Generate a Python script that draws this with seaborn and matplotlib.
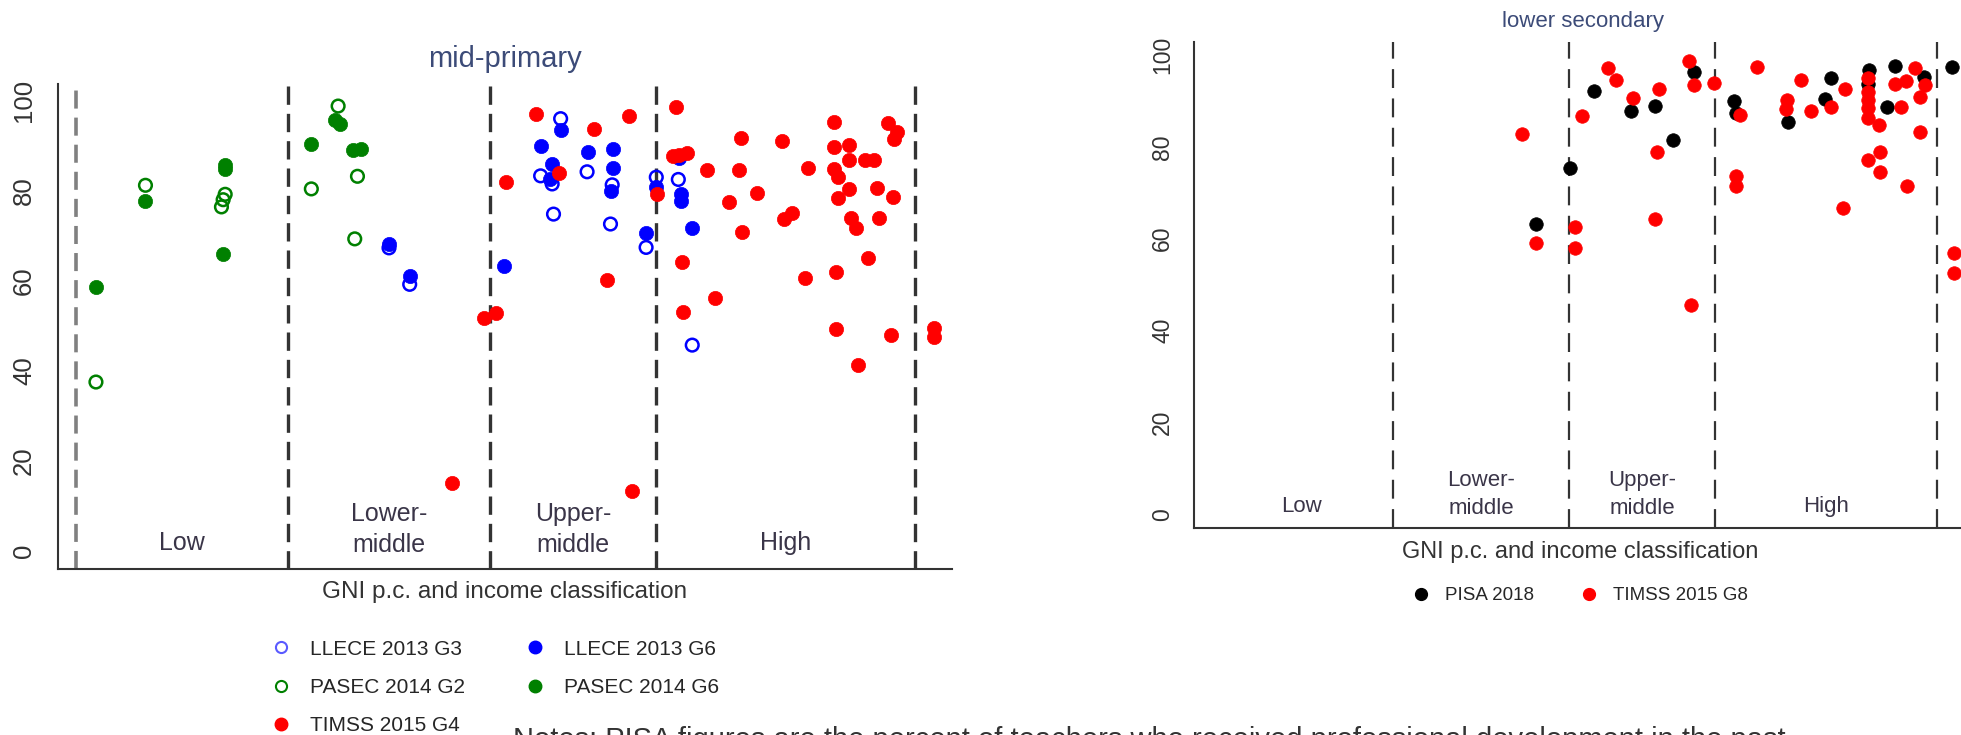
import matplotlib.pyplot as plt
import seaborn as sns
from matplotlib.lines import Line2D

# income group cut-offs (log10 GNI p.c., US$) and group names
cutoffs = [3.011, 3.606, 4.096]
groups = ["Low", "Lower-\nmiddle", "Upper-\nmiddle", "High"]
left_edges = [2.386, 4.860]
right_edges = [2.395, 4.845]

# mid-primary: % of teachers, by log10 GNI p.c.
llece_g3_x = [3.309, 3.370, 3.756, 3.790, 3.794, 3.815, 3.893, 3.962, 3.967,
              4.067, 4.097, 4.162, 4.203]
llece_g3_y = [67.3, 59.2, 83.3, 81.5, 74.8, 96.0, 84.2, 72.6, 81.3,
              67.4, 83.0, 82.5, 45.7]

llece_g6_x = [3.309, 3.370, 3.648, 3.756, 3.785, 3.790, 3.815, 3.895, 3.964,
              3.969, 3.969, 4.067, 4.097, 4.165, 4.170, 4.170, 4.201]
llece_g6_y = [68.2, 61.0, 63.3, 89.9, 82.7, 85.9, 93.5, 88.7, 79.9,
              85.1, 89.3, 70.7, 80.9, 87.2, 79.2, 77.8, 71.8]

pasec_g2_x = [2.445, 2.591, 2.815, 2.820, 2.826, 3.080, 3.159, 3.208, 3.216]
pasec_g2_y = [37.5, 81.2, 76.4, 78.0, 79.2, 80.4, 98.8, 69.3, 83.2]

pasec_g6_x = [2.445, 2.591, 2.820, 2.826, 2.826, 3.080, 3.149, 3.165, 3.203, 3.225]
pasec_g6_y = [58.6, 77.7, 65.9, 84.9, 85.8, 90.3, 95.8, 94.9, 89.1, 89.2]

timss_g4_x = [3.495, 3.588, 3.625, 3.653, 3.743, 3.809, 3.913, 3.952, 4.016,
              4.025, 4.100, 4.155, 4.145, 4.165, 4.187, 4.172, 4.175, 4.246,
              4.271, 4.312, 4.342, 4.347, 4.350, 4.394, 4.467, 4.474, 4.497,
              4.536, 4.543, 4.622, 4.622, 4.622, 4.632, 4.632, 4.627, 4.627,
              4.664, 4.664, 4.664, 4.671, 4.686, 4.693, 4.713, 4.720, 4.740,
              4.749, 4.754, 4.779, 4.808, 4.798, 4.795, 4.789, 4.916, 4.916]
timss_g4_y = [15.1, 51.8, 52.8, 82.0, 97.0, 84.0, 93.6, 60.1, 96.7,
              13.3, 79.3, 98.7, 87.6, 87.9, 88.4, 64.2, 53.1, 84.6,
              56.1, 77.6, 84.7, 91.6, 70.8, 79.5, 91.1, 73.8, 75.0,
              60.7, 85.1, 95.2, 89.8, 84.8, 83.0, 78.3, 62.0, 49.2,
              90.2, 86.8, 80.3, 74.0, 71.8, 41.3, 86.8, 65.0, 86.8,
              80.7, 73.9, 95.0, 93.1, 91.4, 78.5, 47.9, 49.6, 47.6]

# lower secondary
pisa_x = [3.492, 3.609, 3.690, 3.812, 3.894, 3.956, 4.026, 4.160, 4.166,
          4.343, 4.466, 4.488, 4.610, 4.614, 4.675, 4.702, 4.800, 4.895]
pisa_y = [63.1, 75.3, 92.2, 87.8, 89.0, 81.6, 96.2, 90.0, 87.3,
          85.5, 90.4, 95.1, 93.7, 96.7, 88.7, 97.7, 95.3, 97.5]

timss_g8_x = [3.448, 3.492, 3.626, 3.626, 3.648, 3.737, 3.762, 3.821, 3.900,
              3.894, 3.908, 4.009, 4.017, 4.026, 4.094, 4.166, 4.166, 4.179,
              4.239, 4.334, 4.337, 4.387, 4.419, 4.488, 4.527, 4.534, 4.611,
              4.611, 4.611, 4.611, 4.611, 4.612, 4.650, 4.652, 4.652, 4.702,
              4.724, 4.741, 4.744, 4.770, 4.786, 4.786, 4.803, 4.901, 4.901]
timss_g8_y = [82.7, 59.0, 62.6, 58.0, 86.7, 97.2, 94.6, 90.6, 78.8,
              64.3, 92.7, 98.8, 45.5, 93.5, 93.8, 73.7, 71.5, 86.9,
              97.5, 88.3, 90.1, 94.6, 87.8, 88.7, 66.8, 92.6, 95.1,
              92.0, 90.3, 88.4, 86.2, 77.1, 84.8, 78.8, 74.6, 93.6,
              88.7, 94.4, 71.5, 97.2, 90.9, 83.3, 93.5, 56.8, 52.6]

BLUE, GREEN, RED, INK = "#0000ff", "#008000", "#ff0000", "#333333"

sns.set_style("white")
plt.rcParams["font.family"] = ["Liberation Sans", "DejaVu Sans"]

fig = plt.figure(figsize=(19.61, 7.35), dpi=100)
ax1 = fig.add_axes([0.02973, 0.22544, 0.45559, 0.66027])
ax2 = fig.add_axes([0.60903, 0.28122, 0.39786, 0.66204])


def dots(ax, x, y, color, hollow=False, s=105):
    if hollow:
        sns.scatterplot(x=x, y=y, ax=ax, marker="o", s=s - 22,
                        facecolors="none", edgecolor=color, linewidth=1.8)
    else:
        sns.scatterplot(x=x, y=y, ax=ax, marker="o", s=s, color=color,
                        edgecolor=color, linewidth=0.5)


def frame(ax, edges, ylim, lsize, tick_len, pad, vlw, dash):
    sns.despine(ax=ax)
    for sp in ("left", "bottom"):
        ax.spines[sp].set_linewidth(1.5)
        ax.spines[sp].set_color(INK)
    ax.set_ylim(*ylim)
    ax.set_yticks([0, 20, 40, 60, 80, 100])
    ticks = [edges[0]] + cutoffs + [edges[1]]
    ax.set_xticks(ticks)
    ax.set_xticklabels([])
    ax.tick_params(axis="both", direction="out", length=tick_len, width=1.5,
                   color=INK, labelsize=lsize, labelcolor=INK, pad=pad)
    for lbl in ax.get_yticklabels():
        lbl.set_rotation(90)
        lbl.set_va("center")
    for v in cutoffs + [edges[1]]:
        ax.axvline(v, color=INK, lw=vlw, dashes=dash, zorder=0)
    ax.set_xlabel("")
    ax.set_ylabel("")


# ---- mid-primary ----
dots(ax1, llece_g3_x, llece_g3_y, BLUE, hollow=True)
dots(ax1, llece_g6_x, llece_g6_y, BLUE)
dots(ax1, pasec_g2_x, pasec_g2_y, GREEN, hollow=True)
dots(ax1, pasec_g6_x, pasec_g6_y, GREEN)
dots(ax1, timss_g4_x, timss_g4_y, RED)
ax1.set_xlim(2.334, 4.968)
frame(ax1, left_edges, (-4.1, 103.7), 18.5, 6.5, 9.6, 2.4, (5.5, 2.7))
ax1.axvline(left_edges[0], color="#808080", lw=2.6, dashes=(5.0, 2.5), zorder=0)

bounds = [left_edges[0]] + cutoffs + [left_edges[1]]
for i, g in enumerate(groups):
    xm = (bounds[i] + bounds[i + 1]) / 2
    ax1.text(xm, 4.8 if "\n" in g else 1.7, g, ha="center", va="center",
             fontsize=18, color="#3a3548", linespacing=1.35)

fig.text(505 / 1961, 1 - 59 / 735, "mid-primary", ha="center", va="center",
         fontsize=21, color="#3c4b78")
fig.text(505 / 1961, 1 - 592 / 735, "GNI p.c. and income classification",
         ha="center", va="center", fontsize=17.5, color=INK)

h1 = [
    Line2D([], [], ls="none", marker="o", ms=8, mfc="none", mec="#5a5aff", mew=1.5),
    Line2D([], [], ls="none", marker="o", ms=8, mfc="none", mec=GREEN, mew=1.5),
    Line2D([], [], ls="none", marker="o", ms=9, color=RED),
    Line2D([], [], ls="none", marker="o", ms=9, color=BLUE),
    Line2D([], [], ls="none", marker="o", ms=9, color=GREEN),
]
l1 = ["LLECE 2013 G3", "PASEC 2014 G2", "TIMSS 2015 G4",
      "LLECE 2013 G6", "PASEC 2014 G6"]
fig.legend(h1, l1, loc="upper left", bbox_to_anchor=(0.138, 0.1297), ncol=2,
           frameon=False, fontsize=15, handlelength=1.0, handletextpad=0.89,
           columnspacing=2.87, labelspacing=0.92, borderpad=0, borderaxespad=0)

# ---- lower secondary ----
dots(ax2, pisa_x, pisa_y, "black", s=95)
dots(ax2, timss_g8_x, timss_g8_y, RED, s=95)
ax2.set_xlim(2.343, 4.97)
frame(ax2, right_edges, (-3.05, 102.9), 16.5, 6.0, 8.6, 1.6, (8.5, 4.7))

bounds = [right_edges[0]] + cutoffs + [right_edges[1]]
for i, g in enumerate(groups):
    xm = (bounds[i] + bounds[i + 1]) / 2
    ax2.text(xm, 4.3 if "\n" in g else 1.8, g, ha="center", va="center",
             fontsize=16, color="#3a3548", linespacing=1.4)

fig.text(1583 / 1961, 1 - 21 / 735, "lower secondary", ha="center", va="center",
         fontsize=16, color="#3c4b78")
fig.text(1580 / 1961, 1 - 552 / 735, "GNI p.c. and income classification",
         ha="center", va="center", fontsize=17, color=INK)

h2 = [Line2D([], [], ls="none", marker="o", ms=8.5, color="black"),
      Line2D([], [], ls="none", marker="o", ms=8.5, color=RED)]
fig.legend(h2, ["PISA 2018", "TIMSS 2015 G8"], loc="upper left",
           bbox_to_anchor=(0.7198, 0.2014), ncol=2, frameon=False,
           fontsize=13.5, handlelength=1.0, handletextpad=0.78,
           columnspacing=2.43, borderpad=0, borderaxespad=0)

# note line, mostly cut off by the bottom edge in the source
fig.text(513 / 1961, 1 - 748 / 735,
         "Notes: PISA figures are the percent of teachers who received professional "
         "development in the past",
         ha="left", va="baseline", fontsize=21, color=INK)

fig.savefig("out.png", dpi=100)
